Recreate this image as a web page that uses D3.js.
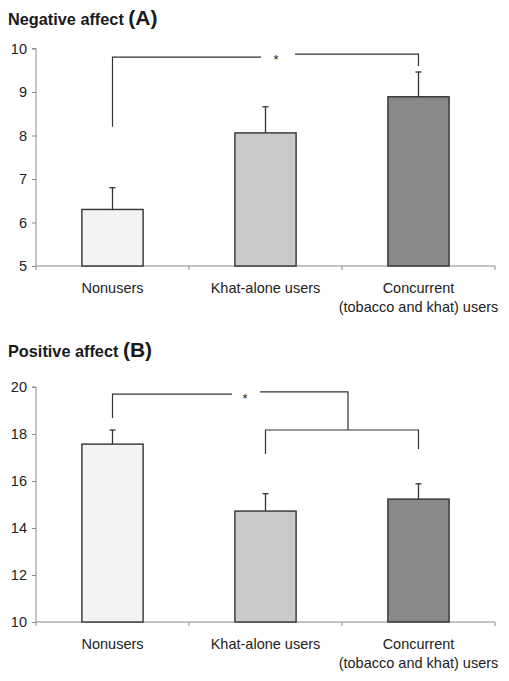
<!DOCTYPE html>
<html><head><meta charset="utf-8">
<script src="https://cdn.jsdelivr.net/npm/d3@7/dist/d3.min.js"></script>
<style>body{margin:0;background:#fff;} svg{display:block;font-family:"Liberation Sans",Arial,sans-serif;}</style>
</head><body>
<script>
const categories = ["Nonusers", "Khat-alone users", "Concurrent\n(tobacco and khat) users"];
const colors = ["#f3f3f3", "#c9cacc", "#88898b"];
const negMeans = [6.3, 8.06, 8.89];
const negErrTop = [6.8, 8.66, 9.46];
const negTicks = [5, 6, 7, 8, 9, 10];
const posMeans = [17.57, 14.72, 15.23];
const posErrTop = [18.17, 15.46, 15.88];
const posTicks = [10, 12, 14, 16, 18, 20];

const W = 509, H = 681;
const svg = d3.select("body").append("svg").attr("width", W).attr("height", H);

const x = d3.scaleBand().domain(categories).range([36, 495]).paddingInner(0.6).paddingOuter(0.3);

function panel(cfg) {
  const g = svg.append("g");
  const y = d3.scaleLinear().domain(cfg.domain).range([cfg.y0, cfg.y1]);
  // title
  const t = g.append("text").attr("x", 8).attr("y", cfg.titleY).attr("font-weight", "bold").attr("fill", "#1a1a1a");
  t.append("tspan").attr("font-size", "16.3px").text(cfg.title + " ");
  t.append("tspan").attr("font-size", "21px").text(cfg.letter);
  // y axis
  const ya = g.append("g").attr("transform", "translate(36,0)")
    .call(d3.axisLeft(y).tickValues(cfg.ticks).tickSize(4).tickPadding(5).tickFormat(d3.format("d")));
  ya.select(".domain").attr("stroke", "#8a8a8a").attr("d", `M-4,${y(cfg.domain[1])}H0V${y(cfg.domain[0])}`);
  ya.selectAll(".tick line").attr("stroke", "#8a8a8a");
  ya.selectAll(".tick text").attr("font-size", "14.5px").attr("fill", "#222").attr("font-family", "'Liberation Sans',Arial,sans-serif");
  // x axis
  const xa = g.append("g").attr("transform", `translate(0,${cfg.y0})`);
  xa.append("line").attr("x1", 36).attr("x2", 495).attr("stroke", "#8a8a8a");
  const bw = (495 - 36) / categories.length;
  xa.selectAll("line.tk").data(d3.range(categories.length + 1)).join("line").attr("class", "tk")
    .attr("x1", i => 36 + i * bw).attr("x2", i => 36 + i * bw).attr("y1", 0).attr("y2", 4).attr("stroke", "#8a8a8a");
  const lab = xa.selectAll("text.cat").data(categories).join("text").attr("class", "cat")
    .attr("text-anchor", "middle").attr("font-size", "14.5px").attr("fill", "#222")
    .attr("x", d => x(d) + x.bandwidth() / 2);
  lab.each(function(d) {
    const lines = d.split("\n");
    d3.select(this).selectAll("tspan").data(lines).join("tspan")
      .attr("x", x(d) + x.bandwidth() / 2).attr("y", (l, i) => 27 + i * 19).text(l => l);
  });
  // error bars
  g.selectAll("line.err").data(categories).join("line").attr("class", "err")
    .attr("x1", d => x(d) + x.bandwidth() / 2).attr("x2", d => x(d) + x.bandwidth() / 2)
    .attr("y1", (d, i) => y(cfg.means[i])).attr("y2", (d, i) => y(cfg.err[i]))
    .attr("stroke", "#333").attr("stroke-width", 1.3);
  g.selectAll("line.cap").data(categories).join("line").attr("class", "cap")
    .attr("x1", d => x(d) + x.bandwidth() / 2 - 3).attr("x2", d => x(d) + x.bandwidth() / 2 + 3)
    .attr("y1", (d, i) => y(cfg.err[i])).attr("y2", (d, i) => y(cfg.err[i]))
    .attr("stroke", "#333").attr("stroke-width", 1.3);
  // bars
  g.selectAll("rect.bar").data(categories).join("rect").attr("class", "bar")
    .attr("x", d => x(d)).attr("width", x.bandwidth())
    .attr("y", (d, i) => y(cfg.means[i])).attr("height", (d, i) => y(cfg.domain[0]) - y(cfg.means[i]))
    .attr("fill", (d, i) => colors[i]).attr("stroke", "#333").attr("stroke-width", 1.4);
  // brackets
  const cx = i => x(categories[i]) + x.bandwidth() / 2;
  cfg.brackets(g, y, cx);
}

function pline(g, pts) {
  g.append("path").attr("d", d3.line()(pts)).attr("fill", "none").attr("stroke", "#333").attr("stroke-width", 1.2);
}

panel({
  title: "Negative affect", letter: "(A)", titleY: 25,
  domain: [5, 10], y0: 266, y1: 48.5, ticks: negTicks, means: negMeans, err: negErrTop,
  brackets: (g, y, cx) => {
    pline(g, [[cx(0), y(8.2)], [cx(0), y(9.8)], [261, y(9.8)]]);
    pline(g, [[295, y(9.87)], [cx(2), y(9.87)], [cx(2), y(9.6)]]);
    g.append("text").attr("x", 276).attr("y", y(9.8) + 7).attr("text-anchor", "middle").attr("font-size", "13px").attr("fill", "#222").text("*");
  }
});

panel({
  title: "Positive affect", letter: "(B)", titleY: 357,
  domain: [10, 20], y0: 622, y1: 387, ticks: posTicks, means: posMeans, err: posErrTop,
  brackets: (g, y, cx) => {
    pline(g, [[cx(0), y(18.68)], [cx(0), y(19.7)], [232, y(19.7)]]);
    pline(g, [[260, y(19.79)], [348, y(19.79)], [348, y(18.17)]]);
    pline(g, [[cx(1), y(17.15)], [cx(1), y(18.17)], [cx(2), y(18.17)], [cx(2), y(17.36)]]);
    g.append("text").attr("x", 245).attr("y", y(19.7) + 9).attr("text-anchor", "middle").attr("font-size", "13px").attr("fill", "#222").text("*");
  }
});
</script>
</body></html>
